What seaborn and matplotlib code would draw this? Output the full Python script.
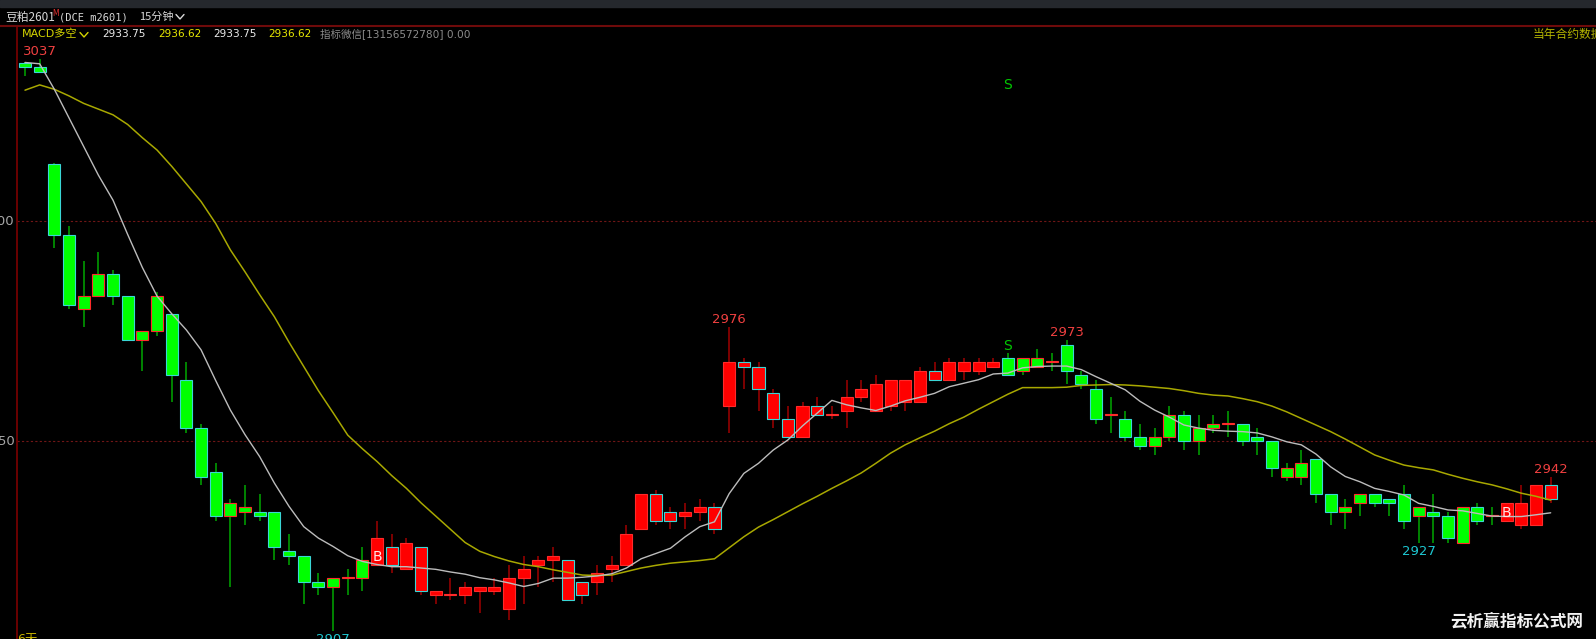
import numpy as np
import pandas as pd
import matplotlib
matplotlib.use("Agg")
import matplotlib.pyplot as plt
import seaborn as sns
from matplotlib.lines import Line2D
from matplotlib.patches import Rectangle

# ---------------- data ----------------
opens = [3036, 3035, 3013, 2997, 2980, 2983, 2988, 2983, 2973, 2975,
         2979, 2964, 2953, 2943, 2933, 2934, 2934, 2934, 2925, 2924,
         2918, 2917, 2919, 2919, 2922, 2926, 2921, 2926, 2915, 2915,
         2915, 2916, 2916, 2912, 2919, 2922, 2923, 2923, 2918, 2918,
         2921, 2922, 2930, 2938, 2934, 2933, 2934, 2935, 2958, 2968,
         2967, 2961, 2955, 2951, 2958, 2956, 2957, 2960, 2957, 2958,
         2959, 2959, 2966, 2964, 2966, 2966, 2967, 2969, 2966, 2967,
         2968, 2972, 2965, 2962, 2956, 2955, 2951, 2949, 2951, 2956,
         2950, 2953, 2954, 2954, 2951, 2950, 2942, 2942, 2946, 2938,
         2934, 2936, 2938, 2937, 2938, 2933, 2934, 2933, 2927, 2935,
         2933, 2932, 2931, 2931, 2940]
highs = [3036.2, 3037, 3013.2, 2999, 2991, 2993, 2989, 2983, 2975, 2984,
         2979, 2968, 2954, 2945, 2937, 2940, 2938, 2934, 2929, 2924,
         2920, 2919, 2921, 2926, 2932, 2929, 2928, 2926, 2916, 2919,
         2918, 2917, 2919, 2922, 2924, 2924, 2926, 2923, 2918, 2922,
         2924, 2931, 2938, 2939, 2935, 2936, 2937, 2936, 2976, 2969,
         2968, 2962, 2958, 2959, 2960, 2958, 2964, 2964, 2965, 2964,
         2964, 2967, 2968, 2969, 2969, 2969, 2969, 2970, 2969, 2971,
         2970, 2973, 2966, 2964, 2960, 2957, 2954, 2953, 2958, 2957,
         2956, 2956, 2957, 2954, 2953, 2950, 2945, 2948, 2946, 2938,
         2937, 2938, 2938, 2937, 2940, 2935, 2938, 2934, 2935, 2936,
         2935, 2936, 2940, 2940, 2942]
lows = [3033, 3034, 2994, 2980, 2976, 2983, 2981, 2973, 2966, 2974,
        2959, 2952, 2940, 2932, 2917, 2931, 2932, 2923, 2922, 2913,
        2915, 2907, 2915, 2916, 2922, 2920, 2921, 2915, 2913, 2914,
        2913, 2911, 2915, 2909.5, 2913, 2917, 2918, 2914, 2913, 2915,
        2918, 2922, 2930, 2931, 2930, 2930, 2932, 2929, 2952, 2962,
        2957, 2953, 2951, 2951, 2956, 2955, 2953, 2959, 2957, 2957,
        2957, 2959, 2964, 2964, 2964, 2965, 2967, 2965, 2965, 2967,
        2966, 2963, 2962, 2954, 2952, 2950, 2948, 2947, 2950, 2948,
        2947, 2952, 2951, 2949, 2947, 2942, 2941, 2940, 2936, 2931,
        2930, 2933, 2935, 2933, 2930, 2927, 2927, 2927, 2927, 2931,
        2931, 2932, 2930, 2931, 2936]
closes = [3035, 3034, 2997, 2981, 2983, 2988, 2983, 2973, 2975, 2983,
          2965, 2953, 2942, 2933, 2936, 2935, 2933, 2926, 2924, 2918,
          2917, 2919, 2919, 2923, 2928, 2922, 2927, 2916, 2916, 2915,
          2917, 2917, 2917, 2919, 2921, 2923, 2924, 2914, 2915, 2920,
          2922, 2929, 2938, 2932, 2932, 2934, 2935, 2930, 2968, 2967,
          2962, 2955, 2951, 2958, 2956, 2956, 2960, 2962, 2963, 2964,
          2964, 2966, 2964, 2968, 2968, 2968, 2968, 2965, 2969, 2969,
          2968, 2966, 2963, 2955, 2956, 2951, 2949, 2951, 2956, 2950,
          2953, 2954, 2954, 2950, 2950, 2944, 2944, 2945, 2938, 2934,
          2935, 2938, 2936, 2936, 2932, 2935, 2933, 2928, 2935, 2932,
          2933, 2936, 2936, 2940, 2937]
# MACD long/short state that colours the candle bodies
macd_state = ["short"] * 24 + ["long"] * 43 + ["short"] * 34 + ["long"] * 4
ma_fast = [3036.1, 3035.8, 3030.0, 3023.5, 3017.0, 3010.5, 3004.8, 2997.0, 2989.5, 2983.0,
           2979.0, 2975.3, 2970.8, 2963.8, 2957.1, 2951.5, 2946.5, 2940.5, 2935.2, 2930.6,
           2928.0, 2926.1, 2924.0, 2922.7, 2922.0, 2921.5, 2921.5, 2921.2, 2920.9, 2920.3,
           2919.8, 2919.0, 2918.5, 2917.8, 2917.0, 2917.7, 2918.9, 2918.9, 2919.1, 2919.4,
           2919.9, 2921.2, 2923.3, 2924.5, 2925.7, 2928.3, 2930.6, 2931.7, 2938.1, 2942.7,
           2945.0, 2948.0, 2950.3, 2953.5, 2956.4, 2959.3, 2958.3, 2957.6, 2957.0, 2958.0,
           2959.2, 2960.0, 2960.9, 2962.4, 2963.2, 2964.0, 2965.3, 2965.5, 2966.7, 2967.0,
           2967.1, 2967.1, 2966.3, 2964.7, 2963.2, 2961.7, 2959.1, 2957.1, 2955.5, 2953.7,
           2953.0, 2952.5, 2952.3, 2952.2, 2951.9, 2951.0, 2949.9, 2949.2, 2947.1, 2944.2,
           2942.0, 2940.8, 2939.3, 2938.6, 2937.8, 2935.9, 2935.2, 2934.4, 2934.2, 2933.6,
           2933.0, 2932.9, 2932.9, 2933.3, 2933.75]
ma_slow = [3029.8, 3031.0, 3030.0, 3028.5, 3026.8, 3025.5, 3024.2, 3022.0, 3019.0, 3016.2,
           3012.5, 3008.5, 3004.5, 2999.5, 2993.5, 2988.5, 2983.3, 2978.3, 2972.5, 2967.0,
           2961.5, 2956.5, 2951.4, 2948.3, 2945.4, 2942.2, 2939.3, 2936.0, 2933.0, 2930.0,
           2927.0, 2925.0, 2923.8, 2922.8, 2922.0, 2921.5, 2920.8, 2920.2, 2919.6, 2919.5,
           2919.6, 2920.4, 2921.2, 2921.8, 2922.3, 2922.6, 2922.9, 2923.3, 2925.8, 2928.3,
           2930.5, 2932.2, 2934.0, 2935.8, 2937.5, 2939.3, 2941.0, 2942.8, 2945.0, 2947.3,
           2949.2, 2950.8, 2952.3, 2954.0, 2955.5, 2957.3, 2959.0, 2960.7, 2962.2, 2962.2,
           2962.2, 2962.3, 2962.7, 2962.8, 2962.9, 2962.8, 2962.6, 2962.3, 2962.0, 2961.5,
           2960.9, 2960.5, 2960.3, 2959.7, 2959.0, 2958.0, 2956.7, 2955.2, 2953.7, 2952.2,
           2950.5, 2948.7, 2946.9, 2945.7, 2944.6, 2944.0, 2943.5, 2942.5, 2941.6, 2940.8,
           2940.1, 2939.2, 2938.2, 2937.5, 2936.62]
grid_levels = [3000, 2950]
grid_labels = ["3000", "2950"]
high_marks = [(1, 3037, "3037"), (48, 2976, "2976"), (71, 2973, "2973"), (104, 2942, "2942")]
low_marks = [(21, 2907, "2907"), (95, 2927, "2927")]
buy_marks = [(24, 2923.6), (101, 2933.7)]
sell_marks = [(67, 2971.6), (67, 3031.0)]
header_vals = ["2933.75", "2936.62", "2933.75", "2936.62"]

# ---------------- style ----------------
sns.set_theme(style="dark", rc={"axes.facecolor": "black", "figure.facecolor": "black"})
plt.rcParams["font.family"] = ["DejaVu Sans", "Noto Sans CJK SC"]

W, H = 1596, 639
fig = plt.figure(figsize=(W / 100, H / 100), dpi=100, facecolor="black")
ax = fig.add_axes([0, 0, 1, 1])
ax.set_facecolor("black")

X0, STEP = 25.0, 14.67          # pixel of first candle, pixel spacing
YREF, YREF_PX, PPU = 3000.0, 221.3, 4.4


def xi(px):
    return (px - X0) / STEP


def fpos(x, y):
    return x / W, 1 - y / H


n = len(opens)
idx = np.arange(n)
o = np.array(opens, float)
c = np.array(closes, float)
h = np.array(highs, float)
l = np.array(lows, float)

body_col = ["#ff0000" if s == "long" else "#00ff00" for s in macd_state]
wick_col = ["#a00000" if s == "long" else "#00a800" for s in macd_state]
edge_col = ["#ff2a2a" if cc >= oo else "#3ad6d6" for oo, cc in zip(o, c)]

# grid + axis
for lev, lab in zip(grid_levels, grid_labels):
    ax.hlines(lev, xi(17), xi(W), colors="#701616", linestyles=(0, (2, 2)), lw=0.8, zorder=1)
    ax.text(xi(15), lev, lab, ha="right", va="center", color="#a6a6a6", fontsize=9.5)
ax.axvline(xi(17), ymin=0, ymax=1 - 26 / H, color="#7c0000", lw=1.2, zorder=1)

# candles
ax.vlines(idx, l, h, colors=wick_col, lw=1.1, zorder=2)
bottoms = np.minimum(o, c)
heights = np.maximum(np.abs(c - o), 0.25)
ax.bar(idx, heights, bottom=bottoms, width=0.82, color=body_col,
       edgecolor=edge_col, linewidth=0.8, zorder=3)

# moving averages
df = pd.DataFrame({"i": idx, "fast": ma_fast, "slow": ma_slow})
sns.lineplot(data=df, x="i", y="slow", color="#a8a800", lw=1.1, ax=ax, zorder=4)
sns.lineplot(data=df, x="i", y="fast", color="#bcbcbc", lw=1.0, ax=ax, zorder=5)

# marks
for i, p, t in high_marks:
    ax.annotate(t, (i, p), xytext=(0, 5.4), textcoords="offset points", ha="center",
                va="center", color="#f04040", fontsize=9.5, zorder=6)
for i, p, t in low_marks:
    ax.annotate(t, (i, p), xytext=(0, -6.3), textcoords="offset points", ha="center",
                va="center", color="#1ec8d2", fontsize=9.5, zorder=6, annotation_clip=False)
for i, p in buy_marks:
    ax.text(i, p, "B", ha="center", va="center", color="#ffe4e4", fontsize=10, zorder=7)
for i, p in sell_marks:
    ax.text(i, p, "S", ha="center", va="center", color="#00c800", fontsize=10, zorder=7)

ax.set_xlim(xi(0), xi(W))
ax.set_ylim(YREF - (H - YREF_PX) / PPU, YREF + YREF_PX / PPU)
ax.axis("off")

# ---------------- header ----------------
fig.add_artist(Rectangle((0, 1 - 7 / H), 1, 7 / H, transform=fig.transFigure,
                         color="#25282d", zorder=2))
fig.add_artist(Line2D([17 / W, 1], [1 - 25.5 / H] * 2, transform=fig.transFigure,
                      color="#6e0a0a", lw=1.5, zorder=2))
fig.add_artist(Line2D([0, 17 / W], [1 - 25.5 / H] * 2, transform=fig.transFigure,
                      color="#6e0a0a", lw=1.5, zorder=2))


def chevron(x, y, col):
    xs = [x, x + 4, x + 8]
    ys = [y - 2.5, y + 2, y - 2.5]
    fig.add_artist(Line2D([v / W for v in xs], [1 - v / H for v in ys],
                          transform=fig.transFigure, color=col, lw=1.0, zorder=3))


fig.text(*fpos(5, 17), "豆粕2601", color="#d8d8d8", fontsize=8.5, va="center",
         family=["Noto Sans CJK SC"])
fig.text(*fpos(52, 13), "M", color="#e03030", fontsize=5.5, va="center")
fig.text(*fpos(59, 17), "(DCE m2601)", color="#d8d8d8", fontsize=7.5, va="center",
         family=["DejaVu Sans Mono"])
fig.text(*fpos(139, 17), "15分钟", color="#d8d8d8", fontsize=8, va="center",
         family=["Noto Sans CJK SC"])
chevron(176, 17, "#d8d8d8")

fig.text(*fpos(22, 34), "MACD多空", color="#d4d400", fontsize=8, va="center")
chevron(80, 35, "#d4d400")
for xv, val, col in zip([102, 158, 213, 268], header_vals,
                        ["#ececec", "#e8e800", "#ececec", "#e8e800"]):
    fig.text(*fpos(xv, 34), val, color=col, fontsize=7.6, va="center")
fig.text(*fpos(320, 34), "指标微信[13156572780] 0.00", color="#8c8c8c", fontsize=7.6, va="center")
fig.text(*fpos(1533, 34), "当年合约数据", color="#b4b400", fontsize=8.5, va="center",
         family=["Noto Sans CJK SC"])

fig.text(*fpos(17, 640), "6天", color="#c8b400", fontsize=9, va="center")
fig.text(*fpos(1450, 621), "云析赢指标公式网", color="#f2f2f2", fontsize=12, va="center",
         fontweight="bold", family=["Noto Sans CJK SC"])

fig.savefig("out.png", dpi=100, facecolor="black")
